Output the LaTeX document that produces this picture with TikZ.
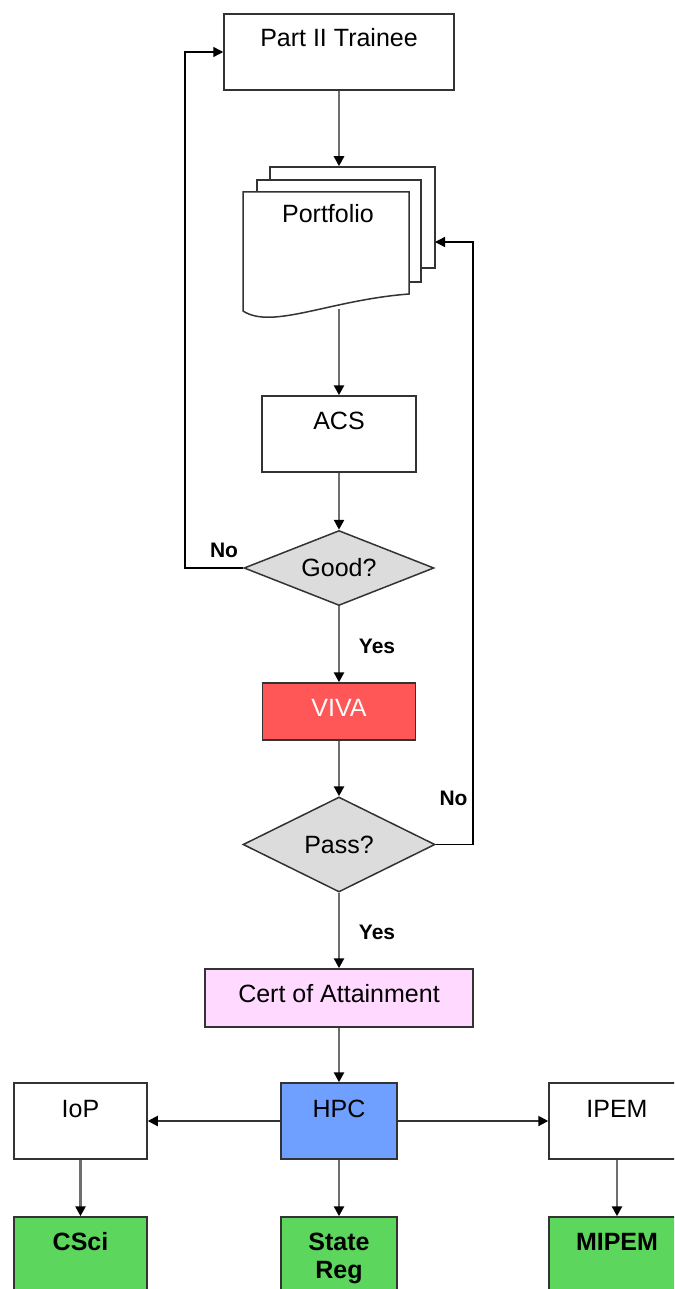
\documentclass[tikz,border=0pt]{standalone}
\usepackage{fontspec}
\setmainfont{Liberation Sans}
\usetikzlibrary{arrows.meta,shapes.geometric,calc}
\definecolor{diafill}{HTML}{DCDCDC}
\definecolor{vivafill}{HTML}{FF5757}
\definecolor{certfill}{HTML}{FFD9FF}
\definecolor{hpcfill}{HTML}{70A0FF}
\definecolor{greenfill}{HTML}{5CD65C}
\definecolor{edgegray}{HTML}{6E6E6E}
\definecolor{linedark}{HTML}{333333}
\begin{document}
\begin{tikzpicture}[x=0.5pt,y=-0.5pt,
  box/.style={draw=linedark,line width=0.75pt,rectangle,inner sep=0pt},
  dia/.style={draw=linedark,line width=0.75pt,diamond,fill=diafill,inner sep=0pt,aspect=2.5,font=\fontsize{12.5}{15}\selectfont},
  txt/.style={anchor=base,inner sep=0pt,font=\fontsize{12.5}{15}\selectfont},
  btxt/.style={anchor=base,inner sep=0pt,font=\fontsize{12.5}{15}\selectfont\bfseries,align=center},
  lab/.style={anchor=base,inner sep=0pt,font=\fontsize{10.5}{12}\selectfont\bfseries},
  flow/.style={draw=edgegray,line width=1.4pt,-{Triangle[length=5pt,width=5pt,color=black]}},
  side/.style={draw=linedark,line width=1pt,-{Triangle[length=5pt,width=5pt,color=black]}},
  loop/.style={draw=black,line width=0.7pt,-{Triangle[length=5pt,width=5pt,color=black]}}
]
\useasboundingbox (0,0) rectangle (674,1289);
\clip (0,0) rectangle (674,1289);

% boxes
\node[box,fill=white,minimum width=115pt,minimum height=38pt] (trainee) at (339,52) {};
\node[txt] (traineet) at (339,47) {Part II Trainee};

\node[box,fill=white,minimum width=82.5pt,minimum height=50.5pt] (page3) at (352.5,217.5) {};
\node[box,fill=white,minimum width=82pt,minimum height=51pt] (page2) at (339,231) {};
\draw[draw=linedark,line width=0.75pt,fill=white] (243,192) -- (409,192) -- (409,294)
  .. controls (330,300) and (272,330) .. (243,311) -- cycle;
\node[txt] (portfolio) at (328,222) {Portfolio};
\coordinate (pfb) at (339,309);

\node[box,fill=white,minimum width=77pt,minimum height=38pt] (acs) at (339,434) {};
\node[txt] (acst) at (339,429) {ACS};

\node[dia,minimum width=95pt,minimum height=37.5pt] (good) at (339,568) {Good?};

\node[box,fill=vivafill,minimum width=76.5pt,minimum height=28.5pt] (viva) at (339,711.5) {};
\node[txt,text=white] (vivat) at (339,716) {VIVA};

\node[dia,minimum width=96pt,minimum height=47.5pt] (pass) at (339,844.5) {Pass?};

\node[box,fill=certfill,minimum width=134pt,minimum height=29pt] (cert) at (339,998) {};
\node[txt] (certt) at (339,1002) {Cert of Attainment};

\node[box,fill=white,minimum width=66.5pt,minimum height=38pt] (iop) at (80.5,1121) {};
\node[txt] (iopt) at (80.5,1117) {IoP};
\node[box,fill=hpcfill,minimum width=58pt,minimum height=38pt] (hpc) at (339,1121) {};
\node[txt] (hpct) at (339,1117) {HPC};
\node[box,fill=white,minimum width=68pt,minimum height=38pt] (ipem) at (617,1121) {};
\node[txt] (ipemt) at (617,1117) {IPEM};

\node[box,fill=greenfill,minimum width=66.5pt,minimum height=41.5pt] (csci) at (80.5,1258.5) {};
\node[btxt] (cscit) at (80.5,1250) {CSci};
\node[box,fill=greenfill,minimum width=58pt,minimum height=41.5pt] (state) at (339,1258.5) {};
\node[btxt] (statet) at (339,1250) {State};
\node[btxt] (regt) at (339,1278) {Reg};
\node[box,fill=greenfill,minimum width=68pt,minimum height=41.5pt] (mipem) at (617,1258.5) {};
\node[btxt] (mipemt) at (617,1250) {MIPEM};

% connectors
\draw[flow] (trainee.south) -- (trainee.south |- page3.north);
\draw[flow] (pfb) -- (acs.north);
\draw[flow] (acs.south) -- (good.north);
\draw[flow] (good.south) -- (viva.north);
\draw[flow] (viva.south) -- (pass.north);
\draw[flow] (pass.south) -- (cert.north);
\draw[flow] (cert.south) -- (hpc.north);
\draw[side] (hpc.west) -- (iop.east);
\draw[side] (hpc.east) -- (ipem.west);
\draw[flow] (iop.south) -- (csci.north);
\draw[flow] (hpc.south) -- (state.north);
\draw[flow] (ipem.south) -- (mipem.north);

\coordinate (lc) at (185,568);
\draw[loop] (good.west) -- (lc) |- (trainee.west);
\coordinate (rc) at (473,844.5);
\coordinate (p3in) at (435,242);
\draw[loop] (pass.east) -- (rc) |- (p3in);

% labels
\node[lab] (no1) at (224,557) {No};
\node[lab] (yes1) at (377,653) {Yes};
\node[lab] (no2) at (453.5,805) {No};
\node[lab] (yes2) at (377,939) {Yes};
\end{tikzpicture}
\end{document}
